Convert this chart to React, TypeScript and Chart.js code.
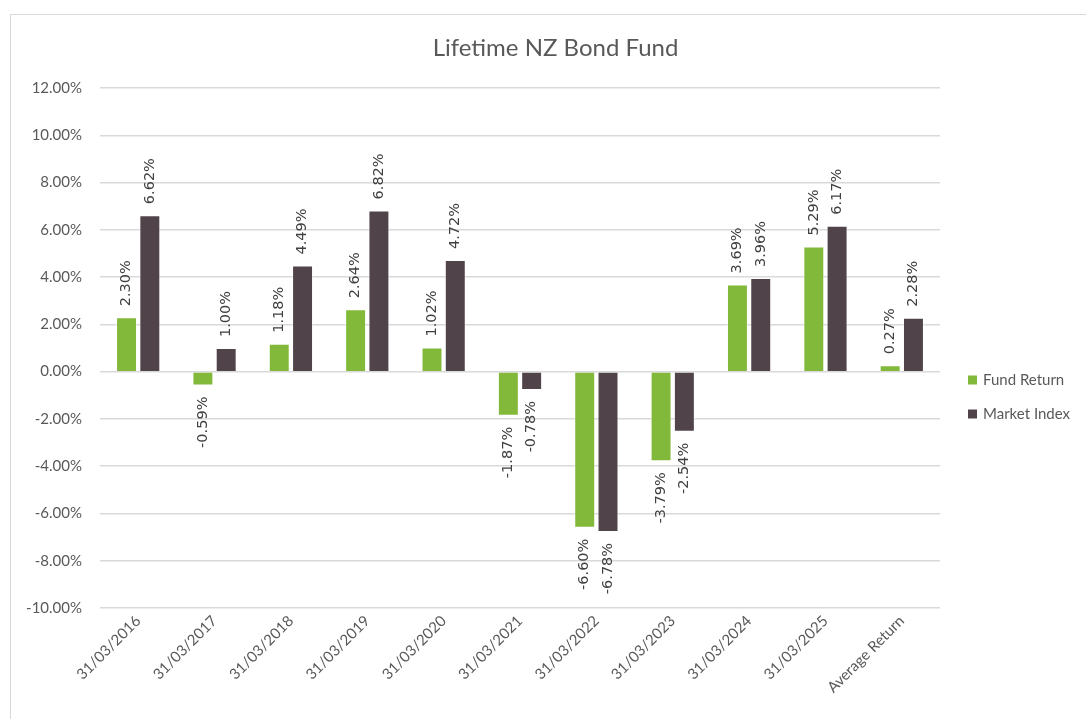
import React, { useEffect, useRef } from "react";
import { Chart, registerables } from "chart.js";

Chart.register(...registerables);

const TITLE = "Lifetime NZ Bond Fund";
const categories = [
  "31/03/2016", "31/03/2017", "31/03/2018", "31/03/2019", "31/03/2020",
  "31/03/2021", "31/03/2022", "31/03/2023", "31/03/2024", "31/03/2025", "Average Return",
];
const fundReturn = [2.30, -0.59, 1.18, 2.64, 1.02, -1.87, -6.60, -3.79, 3.69, 5.29, 0.27];
const marketIndex = [6.62, 1.00, 4.49, 6.82, 4.72, -0.78, -6.78, -2.54, 3.96, 6.17, 2.28];
const seriesNames = ["Fund Return", "Market Index"];
const seriesColors = ["#82B93B", "#51434A"];
const yMin = -10;
const yMax = 12;
const yStep = 2;

const FONT = "Lato, 'Open Sans', sans-serif";
const LABEL_FONT = "'DejaVu Sans', sans-serif";

const decorPlugin = {
  id: "decor",
  afterDatasetsDraw(chart: any) {
    const ctx = chart.ctx;
    ctx.save();
    ctx.fillStyle = "#404040";
    ctx.font = `14.5px ${LABEL_FONT}`;
    ctx.textBaseline = "middle";
    chart.data.datasets.forEach((ds: any, di: number) => {
      const meta = chart.getDatasetMeta(di);
      meta.data.forEach((el: any, i: number) => {
        const v = ds.data[i];
        const txt = v.toFixed(2) + "%";
        ctx.save();
        ctx.translate(el.x, el.y);
        ctx.rotate(-Math.PI / 2);
        if (v >= 0) {
          ctx.textAlign = "left";
          ctx.fillText(txt, 11, 0);
        } else {
          ctx.textAlign = "right";
          ctx.fillText(txt, -11, 0);
        }
        ctx.restore();
      });
    });
    ctx.restore();
  },
  afterDraw(chart: any) {
    const ctx = chart.ctx;
    const area = chart.chartArea;
    ctx.save();
    // title
    ctx.fillStyle = "#595959";
    ctx.font = `24px ${FONT}`;
    ctx.textAlign = "center";
    ctx.textBaseline = "middle";
    ctx.fillText(TITLE, chart.width / 2 + 7, 33);
    // legend
    ctx.font = `15px ${FONT}`;
    ctx.textAlign = "left";
    chart.data.datasets.forEach((ds: any, i: number) => {
      const y = 365 + i * 34;
      const x = area.right + 28;
      ctx.fillStyle = ds.backgroundColor;
      ctx.fillRect(x, y - 4.5, 9, 9);
      ctx.fillStyle = "#595959";
      ctx.fillText(ds.label, x + 15, y);
    });
    ctx.restore();
  },
};

export default function App() {
  const ref = useRef<HTMLCanvasElement | null>(null);
  useEffect(() => {
    if (!ref.current) return;
    const chart = new Chart(ref.current, {
      type: "bar",
      data: {
        labels: categories,
        datasets: [
          {
            label: seriesNames[0],
            data: fundReturn,
            backgroundColor: seriesColors[0],
            borderColor: "rgba(255,255,255,0.5)",
            borderWidth: 1,
            categoryPercentage: 0.61,
            barPercentage: 0.9,
          },
          {
            label: seriesNames[1],
            data: marketIndex,
            backgroundColor: seriesColors[1],
            borderColor: "rgba(255,255,255,0.5)",
            borderWidth: 1,
            categoryPercentage: 0.61,
            barPercentage: 0.9,
          },
        ],
      },
      options: {
        animation: false,
        responsive: false,
        layout: { padding: { left: 0, right: 146, top: 73, bottom: 0 } },
        plugins: {
          legend: { display: false },
          title: { display: false },
          tooltip: { enabled: false },
        },
        scales: {
          x: {
            grid: { display: false, drawTicks: false },
            border: { display: false },
            ticks: {
              minRotation: 45,
              maxRotation: 45,
              autoSkip: false,
              padding: 4,
              color: "#595959",
              font: { family: FONT, size: 15 },
            },
            afterFit: (scale: any) => {
              scale.height = 111;
            },
          },
          y: {
            min: yMin,
            max: yMax,
            grid: { color: "#d9d9d9", lineWidth: 1.5, drawTicks: false },
            border: { display: false },
            ticks: {
              stepSize: yStep,
              padding: 18,
              color: "#595959",
              font: { family: FONT, size: 15 },
              callback: (v: any) => Number(v).toFixed(2) + "%",
            },
            afterFit: (scale: any) => {
              scale.width = 89;
            },
          },
        },
      },
      plugins: [decorPlugin],
    });
    return () => chart.destroy();
  }, []);

  return (
    <div style={{ position: "fixed", left: 0, top: 0, width: 1086, height: 719, overflow: "hidden", background: "#fff" }}>
      <div
        style={{
          position: "absolute",
          left: 10,
          top: 14,
          width: 1090,
          height: 720,
          border: "1.5px solid #d9d9d9",
          boxSizing: "border-box",
        }}
      >
        <canvas ref={ref} width={1075} height={704} style={{ display: "block" }} />
      </div>
    </div>
  );
}
